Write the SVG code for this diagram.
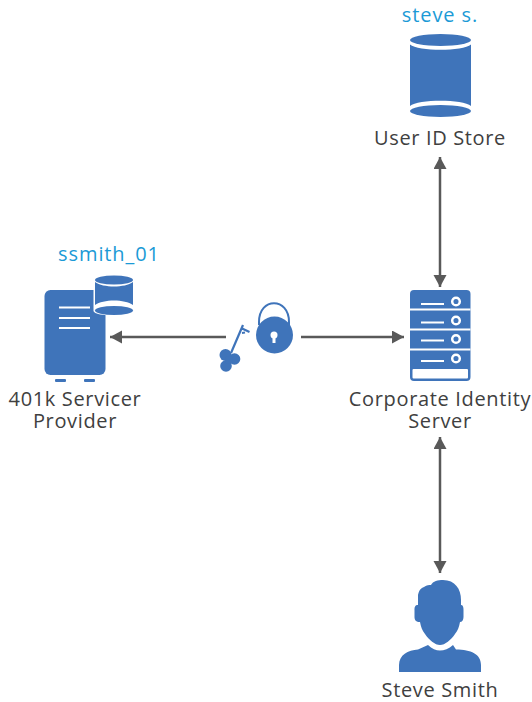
<svg xmlns="http://www.w3.org/2000/svg" width="532" height="702" viewBox="0 0 532 702">
<style>
.l{font-family:"Open Sans","Noto Sans",sans-serif;font-size:20px;letter-spacing:.65px;fill:#404040;text-anchor:middle}
.b{font-family:"Open Sans","Noto Sans",sans-serif;font-size:20px;letter-spacing:.9px;fill:#1b9ad6;text-anchor:middle}
.i{fill:#3f74ba}
.w{stroke:#fff;fill:none;stroke-width:2}
.c{stroke:#595959;stroke-width:2.500;fill:none;marker-start:url(#a);marker-end:url(#a)}
.o{stroke:#595959;stroke-width:2.500;fill:none;marker-end:url(#a)}
</style>
<defs>
<marker id="a" markerUnits="userSpaceOnUse" markerWidth="14" markerHeight="14" refX="12" refY="6.500" orient="auto-start-reverse"><path d="M0 0L12 6.500L0 13Z" fill="#595959"/></marker>
</defs>
<g id="connectors">
<path class="c" d="M440 157V287"/>
<path class="c" d="M440 437V573"/>
<path class="o" d="M226 337H110"/>
<path class="o" d="M301 337H404"/>
</g>
<g id="store">
<text class="b" x="440" y="22">steve s.</text>
<path class="i" d="M410 44.500C418 51.500 463 51.500 471 44.500V106C463 99 418 99 410 106Z"/>
<ellipse class="i" cx="440.500" cy="40" rx="30.500" ry="6"/>
<ellipse class="i" cx="440.500" cy="111" rx="30.500" ry="6"/>
<text class="l" x="440" y="145">User ID Store</text>
</g>
<g id="provider">
<text class="b" x="109" y="261">ssmith_01</text>
<rect class="i" x="44.500" y="290" width="61" height="85" rx="6"/>
<rect class="i" x="55" y="379" width="11" height="3" rx="1"/>
<rect class="i" x="84" y="379" width="11" height="3" rx="1"/>
<path class="w" d="M59 307.500H90M59 318H90M59 328H90"/>
<path d="M93.500 280H134.500V311C134 317 94 317 93.500 311Z" fill="#fff"/>
<path class="i" d="M95 282C103 288 125 288 133 282V305C125 299 103 299 95 305Z"/>
<ellipse class="i" cx="114" cy="280" rx="19" ry="4.500"/>
<ellipse class="i" cx="114" cy="310.500" rx="19" ry="4.500"/>
<text class="l"><tspan x="75" y="406">401k Servicer</tspan><tspan x="75" y="428">Provider</tspan></text>
</g>
<g id="key">
<path d="M231 353L243 325M241 328L249.500 332M242 333L245 332.500" stroke="#3f74ba" stroke-width="2.200" fill="none"/>
<circle class="i" cx="225.500" cy="355" r="6"/>
<circle class="i" cx="234.500" cy="359" r="5.800"/>
<circle class="i" cx="226" cy="366" r="5.800"/>
<circle class="i" cx="229" cy="360" r="4"/>
</g>
<g id="lock">
<path d="M259 325V322C259 297 289 297 289 322V325" stroke="#3f74ba" stroke-width="2" fill="none"/>
<circle class="i" cx="274.500" cy="335" r="18.500"/>
<circle cx="274" cy="335" r="3.500" fill="#fff"/>
<rect x="272.500" y="335" width="3" height="8" fill="#fff"/>
</g>
<g id="server">
<rect class="i" x="410" y="290" width="60.500" height="91" rx="4"/>
<path d="M410 309.500H470.500M410 329.500H470.500M410 349.500H470.500" stroke="#fff" stroke-width="2"/>
<rect x="412.500" y="369" width="55.500" height="9.500" rx="1" fill="#fff"/>
<path class="w" d="M421 304H444M421 322.500H444M421 340.500H444M421 361H444"/>
<g fill="#3f74ba" stroke="#fff" stroke-width="2.500">
<circle cx="456" cy="301.500" r="3.800"/>
<circle cx="456" cy="320.500" r="3.800"/>
<circle cx="456" cy="339" r="3.800"/>
<circle cx="456" cy="358.500" r="3.800"/>
</g>
<text class="l"><tspan x="440" y="406">Corporate Identity</tspan><tspan x="440" y="428">Server</tspan></text>
</g>
<g id="user">
<path class="i" d="M418 595C419 590 421 588 424 587C427 585 429 585 431 585C433 581 438 580 443 580C455 580 461 589 461 600V605C463 605 463.500 607 463.500 610V617C463.500 620 462 622 460 622C459 627 458 630 455 634C451 640 445 645 440 645C435 645 429 640 425 634C422 630 421 627 420 622C416 622 414.500 620 414.500 617V610C414.500 607 415 605 418 605Z"/>
<path class="i" d="M399 672V665C399 655 408 650 418 649.500L428 645C432 649 436 650.500 440 650.500C444 650.500 449 649 453 645L456 649.500C471 649.500 481 654 481 665V672Z"/>
<text class="l" x="440" y="697">Steve Smith</text>
</g>
</svg>
